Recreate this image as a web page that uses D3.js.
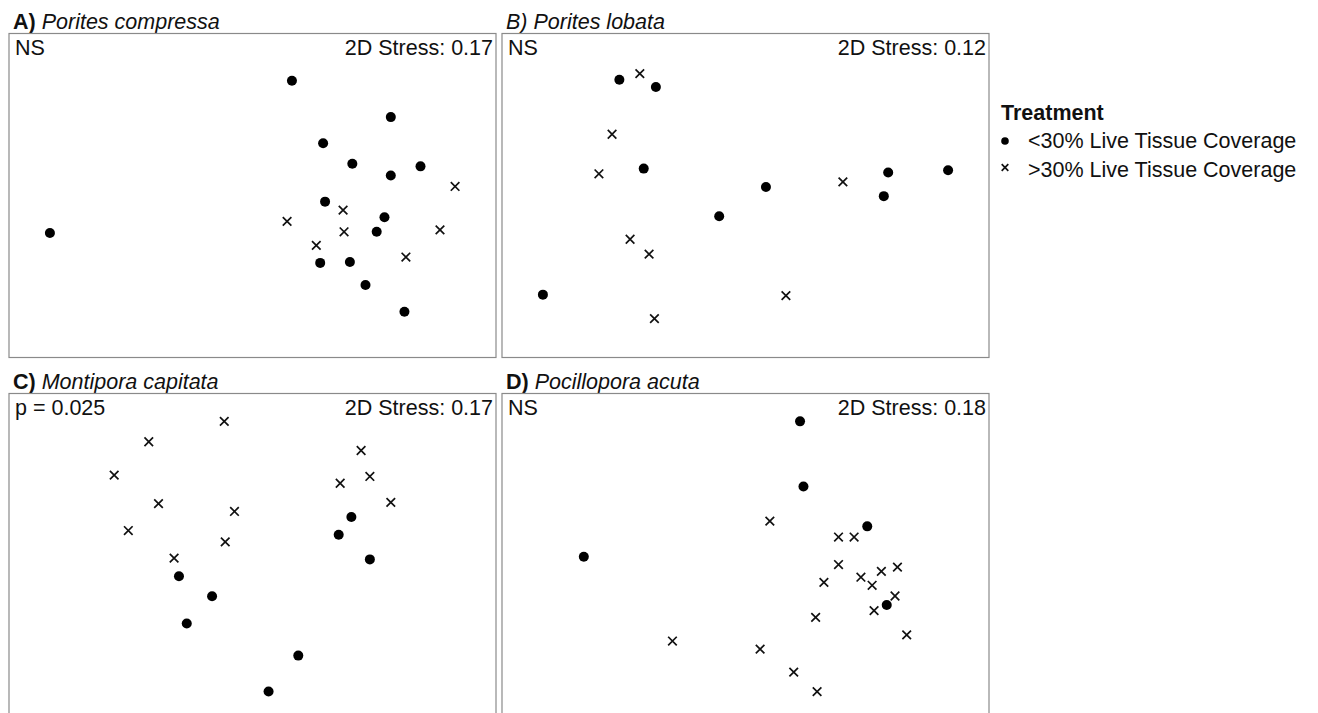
<!DOCTYPE html>
<html>
<head>
<meta charset="utf-8">
<script src="https://cdn.jsdelivr.net/npm/d3@7"></script>
<style>
  body { margin: 0; background: #fff; }
  text { font-family: "Liberation Sans", Arial, sans-serif; fill: #111; }
</style>
</head>
<body>
<div id="my_dataviz"></div>
<script>
// NMDS ordination scores, rescaled to 0-100 on each axis (no axes are shown)
var panelLetters = ["A)", "B)", "C)", "D)"];
var panelSpecies = ["Porites compressa", "Porites lobata", "Montipora capitata", "Pocillopora acuta"];
var panelSig = ["NS", "NS", "p = 0.025", "NS"];
var panelStress = ["0.17", "0.12", "0.17", "0.18"];
var treatments = ["<30% Live Tissue Coverage", ">30% Live Tissue Coverage"];

// A) Porites compressa
var aLowX  = [58.1, 78.4, 64.5, 70.5, 84.5, 78.4, 64.9, 77.1, 75.5, 8.4, 63.9, 70.0, 73.2, 81.2];
var aLowY  = [85.4, 74.2, 66.1, 59.8, 59.0, 56.2, 48.1, 43.3, 38.8, 38.4, 29.2, 29.5, 22.4, 14.1];
var aHighX = [91.6, 68.6, 57.1, 68.8, 88.5, 63.1, 81.5];
var aHighY = [52.8, 45.5, 42.0, 38.8, 39.4, 34.6, 31.0];

// B) Porites lobata
var bLowX  = [24.1, 31.6, 29.1, 54.2, 44.6, 79.3, 78.4, 91.6, 8.4];
var bLowY  = [85.7, 83.5, 58.3, 52.6, 43.6, 57.1, 49.8, 57.8, 19.4];
var bHighX = [28.3, 22.6, 19.9, 70.0, 26.3, 30.2, 58.3, 31.3];
var bHighY = [87.6, 68.9, 56.7, 54.2, 36.5, 31.9, 19.1, 12.0];

// C) Montipora capitata
var cLowX  = [70.3, 67.7, 74.1, 34.9, 41.7, 36.5, 59.4, 53.3];
var cLowY  = [61.9, 56.4, 48.8, 43.6, 37.4, 29.0, 19.1, 8.0];
var cHighX = [44.2, 28.7, 21.6, 30.7, 24.5, 46.3, 44.4, 33.9, 72.3, 74.1, 68.0, 78.4];
var cHighY = [91.4, 85.1, 74.8, 66.0, 57.7, 63.6, 54.2, 49.2, 82.4, 74.4, 72.3, 66.4];

// D) Pocillopora acuta
var dLowX  = [61.2, 61.9, 75.0, 16.8, 79.0];
var dLowY  = [91.4, 71.3, 59.0, 49.6, 34.7];
var dHighX = [55.0, 69.1, 72.3, 69.1, 66.1, 73.7, 76.0, 77.9, 81.2, 80.7, 76.4, 83.1, 64.4, 35.0, 53.0, 59.9, 64.7];
var dHighY = [60.6, 55.7, 55.7, 47.2, 41.7, 43.3, 40.8, 45.1, 46.4, 37.5, 33.0, 25.5, 30.9, 23.6, 21.1, 14.0, 8.0];

var lowX = [aLowX, bLowX, cLowX, dLowX], lowY = [aLowY, bLowY, cLowY, dLowY];
var highX = [aHighX, bHighX, cHighX, dHighX], highY = [aHighY, bHighY, cHighY, dHighY];

var W = 1318, H = 713;
var pw = 487, ph = 324;
var origins = [[9, 33.5], [502, 33.5], [9, 393.5], [502, 393.5]];
var fs = "21.5px";

var svg = d3.select("#my_dataviz")
  .append("svg")
    .attr("width", W)
    .attr("height", H);

var x = d3.scaleLinear().domain([0, 100]).range([0, pw]);
var y = d3.scaleLinear().domain([0, 100]).range([ph, 0]);

var crossSize = 4.3;

function drawCross(g, cx, cy, s) {
  g.append("path")
    .attr("d", "M" + (cx - s) + "," + (cy - s) + "L" + (cx + s) + "," + (cy + s) +
               "M" + (cx - s) + "," + (cy + s) + "L" + (cx + s) + "," + (cy - s))
    .attr("stroke", "#111")
    .attr("stroke-width", 1.7)
    .attr("fill", "none");
}

for (var i = 0; i < 4; i++) {
  var g = svg.append("g")
    .attr("transform", "translate(" + origins[i][0] + "," + origins[i][1] + ")");

  // panel title
  var title = g.append("text")
    .attr("x", 4)
    .attr("y", -5)
    .style("font-size", fs);
  title.append("tspan")
    .style("font-weight", i == 1 ? "normal" : "bold")
    .style("font-style", i == 1 ? "italic" : "normal")
    .text(panelLetters[i] + " ");
  title.append("tspan")
    .style("font-style", "italic")
    .text(panelSpecies[i]);

  // frame
  g.append("rect")
    .attr("x", 0)
    .attr("y", 0)
    .attr("width", pw)
    .attr("height", ph)
    .attr("fill", "none")
    .attr("stroke", "#8a8a8a")
    .attr("stroke-width", 1.2);

  g.append("text")
    .attr("x", 6)
    .attr("y", 21.5)
    .style("font-size", fs)
    .text(panelSig[i]);

  g.append("text")
    .attr("x", pw - 3)
    .attr("y", 21.5)
    .attr("text-anchor", "end")
    .style("font-size", fs)
    .text("2D Stress: " + panelStress[i]);

  // <30% points
  g.selectAll("circle.low")
    .data(d3.range(lowX[i].length))
    .enter()
    .append("circle")
      .attr("class", "low")
      .attr("cx", function(d) { return x(lowX[i][d]); })
      .attr("cy", function(d) { return y(lowY[i][d]); })
      .attr("r", 5)
      .attr("fill", "#000");

  // >30% points
  for (var j = 0; j < highX[i].length; j++) {
    drawCross(g, x(highX[i][j]), y(highY[i][j]), crossSize);
  }
}

// legend
var leg = svg.append("g").attr("transform", "translate(1001,0)");
leg.append("text")
  .attr("x", 0)
  .attr("y", 120)
  .style("font-size", fs)
  .style("font-weight", "bold")
  .text("Treatment");
leg.append("circle")
  .attr("cx", 4)
  .attr("cy", 141)
  .attr("r", 3.8)
  .attr("fill", "#000");
leg.append("text")
  .attr("x", 27)
  .attr("y", 148)
  .style("font-size", fs)
  .text(treatments[0]);
drawCross(leg, 4, 167.5, 3.3);
leg.append("text")
  .attr("x", 27)
  .attr("y", 176.5)
  .style("font-size", fs)
  .text(treatments[1]);
</script>
</body>
</html>
